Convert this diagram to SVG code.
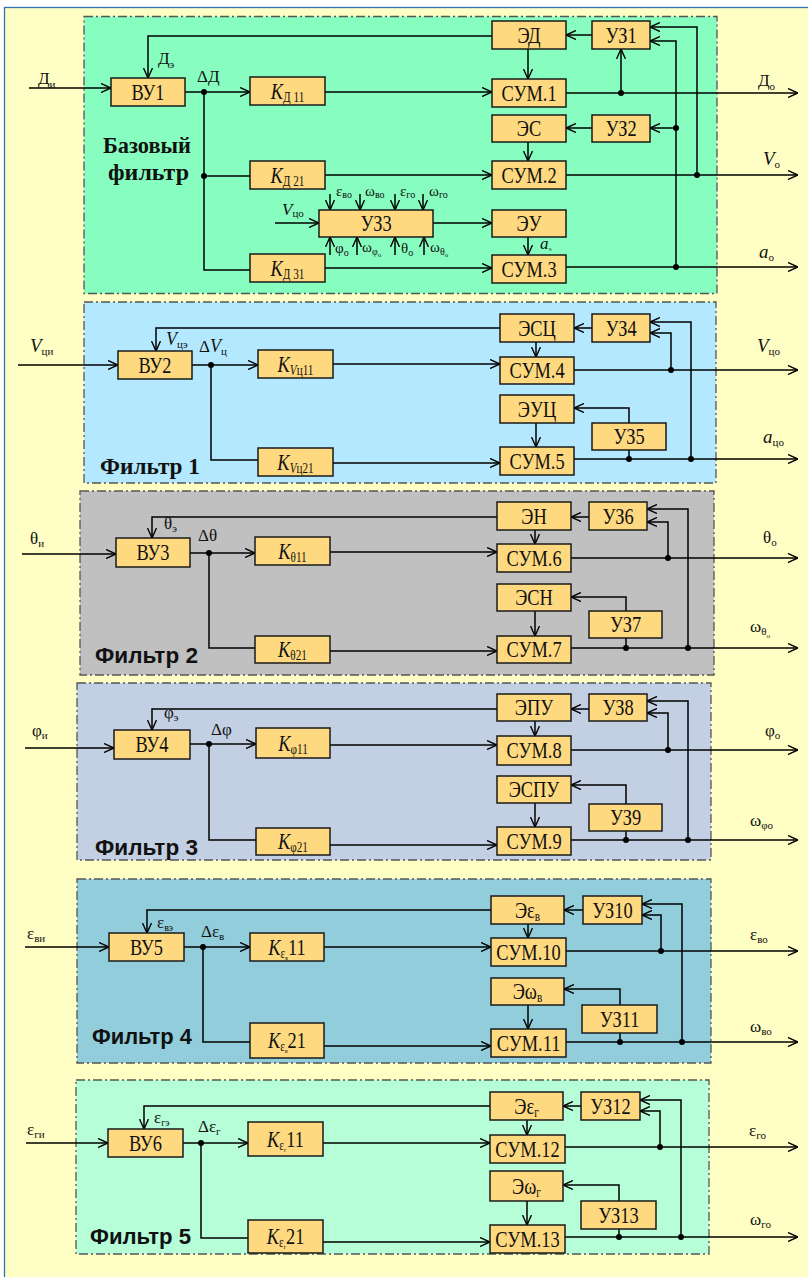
<svg xmlns="http://www.w3.org/2000/svg" width="808" height="1277" viewBox="0 0 808 1277">
<defs>
<marker id="ah" viewBox="0 0 10 10" refX="10" refY="5" markerWidth="10" markerHeight="10" markerUnits="userSpaceOnUse" orient="auto">
<path d="M0,0.5 L10,5 L0,9.5" fill="none" stroke="#000" stroke-width="1.4"/>
</marker>
<style>
.bx{fill:#FFD97F;stroke:#1a1a1a;stroke-width:1.5}
.pn{stroke:#555;stroke-width:1.3;stroke-dasharray:9 3 2 3}
.t{font-family:"Liberation Serif","Times New Roman",serif;font-size:23px;text-anchor:middle;fill:#111}
.l{font-family:"Liberation Serif","Times New Roman",serif;font-size:17px;fill:#111}
.m{font-family:"Liberation Serif","Times New Roman",serif;font-size:15px;fill:#111}
.s{font-size:11px}
.ss{font-size:10px}
.sss{font-size:7px}
.k{font-size:14px}
.i{font-style:italic}
.h{font-family:"Liberation Serif","Times New Roman",serif;font-weight:bold;font-size:23px;fill:#111}
.h2{font-family:"Liberation Sans",Arial,sans-serif;font-weight:bold;font-size:22px;fill:#111}
.c{fill:none;stroke:#000;stroke-width:1.5}
.a{marker-end:url(#ah)}
.d{fill:#000}
</style>
</defs>
<rect x="0" y="0" width="808" height="1277" fill="#ffffff"/>
<rect x="4.5" y="7.5" width="830" height="1290" fill="#FFFEC4" stroke="#2E74B5" stroke-width="1.3"/>

<g id="panels">
<rect class="pn" x="84" y="16.5" width="633" height="277" fill="#87FEC0"/>
<rect class="pn" x="84" y="302" width="632" height="181" fill="#B3E8FE"/>
<rect class="pn" x="80" y="491" width="634" height="184" fill="#C0C0C0"/>
<rect class="pn" x="77" y="683" width="634" height="177" fill="#C3CFE2"/>
<rect class="pn" x="77" y="879" width="634" height="184" fill="#92CDDC"/>
<rect class="pn" x="76" y="1080" width="633" height="174" fill="#B6FED8"/>
<text class="h" x="103" y="153" textLength="88" lengthAdjust="spacingAndGlyphs">Базовый</text>
<text class="h" x="108" y="180" textLength="81" lengthAdjust="spacingAndGlyphs">фильтр</text>
<text class="h" x="100" y="474" textLength="100" lengthAdjust="spacingAndGlyphs">Фильтр 1</text>
<text class="h2" x="95" y="663" textLength="103" lengthAdjust="spacingAndGlyphs">Фильтр 2</text>
<text class="h2" x="95" y="855" textLength="103" lengthAdjust="spacingAndGlyphs">Фильтр 3</text>
<text class="h2" x="92" y="1044" textLength="100" lengthAdjust="spacingAndGlyphs">Фильтр 4</text>
<text class="h2" x="90" y="1244" textLength="101" lengthAdjust="spacingAndGlyphs">Фильтр 5</text>
</g>

<g id="connectors">
<!-- base filter -->
<path class="c a" d="M29,88 H111"/>
<path class="c a" d="M185,92 H250"/>
<path class="c" d="M204,92 V270 H250"/>
<path class="c" d="M204,176 H250"/>
<path class="c a" d="M325,92 H492"/>
<path class="c a" d="M325,175 H492"/>
<path class="c a" d="M325,268 H492"/>
<path class="c a" d="M592,35 H566"/>
<path class="c a" d="M492,36 H148 V78"/>
<path class="c a" d="M528,49 V79"/>
<path class="c a" d="M566,93 H798"/>
<path class="c a" d="M621,93 V49"/>
<path class="c a" d="M697,175 V27 H650"/>
<path class="c a" d="M676,267 V41 H650"/>
<path class="c a" d="M676,128 H650"/>
<path class="c a" d="M592,128 H566"/>
<path class="c a" d="M528,142 V161"/>
<path class="c a" d="M566,175 H798"/>
<path class="c a" d="M275,223 H319"/>
<path class="c a" d="M433,223 H492"/>
<path class="c a" d="M330,194 V210"/>
<path class="c a" d="M360,194 V210"/>
<path class="c a" d="M395,194 V210"/>
<path class="c a" d="M423,194 V210"/>
<path class="c a" d="M330,255 V237"/>
<path class="c a" d="M357,255 V237"/>
<path class="c a" d="M395,255 V237"/>
<path class="c a" d="M424,255 V237"/>
<path class="c a" d="M528,237 V255"/>
<path class="c a" d="M566,267 H798"/>
<circle class="d" cx="204" cy="92" r="3"/>
<circle class="d" cx="204" cy="176" r="3"/>
<circle class="d" cx="621" cy="93" r="3"/>
<circle class="d" cx="697" cy="175" r="3"/>
<circle class="d" cx="676" cy="128" r="3"/>
<circle class="d" cx="676" cy="267" r="3"/>
<!-- filter 1 -->
<path class="c a" d="M18,365 H118"/>
<path class="c a" d="M192,365 H258"/>
<path class="c" d="M211,365 V460 H258"/>
<path class="c a" d="M333,364 H500"/>
<path class="c a" d="M333,463 H500"/>
<path class="c a" d="M592,328 H574"/>
<path class="c a" d="M500,328 H156 V351"/>
<path class="c a" d="M536,342 V357"/>
<path class="c a" d="M574,370 H798"/>
<path class="c a" d="M671,370 V333 H650"/>
<path class="c a" d="M691,459 V322 H650"/>
<path class="c a" d="M629,423 V408 H574"/>
<path class="c a" d="M536,423 V447"/>
<path class="c a" d="M574,459 H798"/>
<path class="c" d="M629,459 V450"/>
<circle class="d" cx="211" cy="365" r="3"/>
<circle class="d" cx="671" cy="370" r="3"/>
<circle class="d" cx="691" cy="459" r="3"/>
<circle class="d" cx="629" cy="459" r="3"/>
<!-- filter 2 -->
<path class="c a" d="M22,554 H116"/>
<path class="c a" d="M190,553 H255"/>
<path class="c" d="M209,553 V648 H255"/>
<path class="c a" d="M330,552 H497"/>
<path class="c a" d="M330,651 H497"/>
<path class="c a" d="M589,517 H571"/>
<path class="c a" d="M497,517 H152 V538"/>
<path class="c a" d="M535,530 V544"/>
<path class="c a" d="M571,558 H798"/>
<path class="c a" d="M668,558 V522 H647"/>
<path class="c a" d="M688,648 V509 H647"/>
<path class="c a" d="M626,611 V597 H571"/>
<path class="c a" d="M535,611 V636"/>
<path class="c a" d="M571,648 H798"/>
<path class="c" d="M626,648 V638"/>
<circle class="d" cx="209" cy="553" r="3"/>
<circle class="d" cx="668" cy="558" r="3"/>
<circle class="d" cx="688" cy="648" r="3"/>
<circle class="d" cx="626" cy="648" r="3"/>
<!-- filter 3 -->
<path class="c a" d="M25,748 H114"/>
<path class="c a" d="M190,744 H256"/>
<path class="c" d="M209,744 V840 H256"/>
<path class="c a" d="M330,745 H497"/>
<path class="c a" d="M330,845 H497"/>
<path class="c a" d="M589,709 H571"/>
<path class="c a" d="M497,709 H152 V730"/>
<path class="c a" d="M535,721 V736"/>
<path class="c a" d="M571,750 H798"/>
<path class="c a" d="M668,750 V713 H647"/>
<path class="c a" d="M688,840 V701 H647"/>
<path class="c a" d="M626,804 V785 H571"/>
<path class="c a" d="M535,803 V827"/>
<path class="c a" d="M571,840 H798"/>
<path class="c" d="M626,840 V831"/>
<circle class="d" cx="209" cy="744" r="3"/>
<circle class="d" cx="668" cy="750" r="3"/>
<circle class="d" cx="688" cy="840" r="3"/>
<circle class="d" cx="626" cy="840" r="3"/>
<!-- filter 4 -->
<path class="c a" d="M25,947 H109"/>
<path class="c a" d="M184,947 H250"/>
<path class="c" d="M203,947 V1042 H250"/>
<path class="c a" d="M324,947 H491"/>
<path class="c a" d="M324,1046 H491"/>
<path class="c a" d="M583,910 H564"/>
<path class="c a" d="M491,910 H147 V933"/>
<path class="c a" d="M528,924 V938"/>
<path class="c a" d="M566,951 H798"/>
<path class="c a" d="M661,951 V915 H642"/>
<path class="c a" d="M682,1042 V904 H642"/>
<path class="c a" d="M620,1005 V989 H564"/>
<path class="c a" d="M528,1005 V1029"/>
<path class="c a" d="M566,1042 H798"/>
<path class="c" d="M620,1042 V1033"/>
<circle class="d" cx="203" cy="947" r="3"/>
<circle class="d" cx="661" cy="951" r="3"/>
<circle class="d" cx="682" cy="1042" r="3"/>
<circle class="d" cx="620" cy="1042" r="3"/>
<!-- filter 5 -->
<path class="c a" d="M26,1143 H108"/>
<path class="c a" d="M183,1143 H248"/>
<path class="c" d="M201,1143 V1238 H248"/>
<path class="c a" d="M323,1143 H490"/>
<path class="c a" d="M323,1242 H490"/>
<path class="c a" d="M581,1106 H563"/>
<path class="c a" d="M490,1106 H144 V1129"/>
<path class="c a" d="M527,1120 V1135"/>
<path class="c a" d="M565,1147 H798"/>
<path class="c a" d="M660,1147 V1111 H640"/>
<path class="c a" d="M681,1237 V1100 H640"/>
<path class="c a" d="M619,1201 V1185 H563"/>
<path class="c a" d="M527,1201 V1225"/>
<path class="c a" d="M565,1237 H798"/>
<path class="c" d="M619,1237 V1229"/>
<circle class="d" cx="201" cy="1143" r="3"/>
<circle class="d" cx="660" cy="1147" r="3"/>
<circle class="d" cx="681" cy="1237" r="3"/>
<circle class="d" cx="619" cy="1237" r="3"/>
</g>

<g id="labels">
<text class="l" x="38" y="84">Д<tspan class="s" dy="4">и</tspan></text>
<text class="l" x="158" y="64">Д<tspan class="s" dy="4">э</tspan></text>
<text class="l" x="197" y="82">ΔД</text>
<text class="l" x="758" y="86">Д<tspan class="s" dy="4">о</tspan></text>
<text class="l" x="763" y="165"><tspan class="i" font-size="19">V</tspan><tspan class="s" dy="3">о</tspan></text>
<text class="l" x="759" y="258"><tspan class="i" font-size="19">a</tspan><tspan class="s" dy="3">о</tspan></text>
<text class="l" x="282" y="215"><tspan class="i">V</tspan><tspan class="s" dy="2">цо</tspan></text>
<text class="m" x="336" y="196">ε<tspan class="ss" dy="2">во</tspan></text>
<text class="m" x="365" y="196">ω<tspan class="ss" dy="2">во</tspan></text>
<text class="m" x="400" y="196">ε<tspan class="ss" dy="2">го</tspan></text>
<text class="m" x="429" y="196">ω<tspan class="ss" dy="2">го</tspan></text>
<text class="m" x="335" y="253">φ<tspan class="ss" dy="3">о</tspan></text>
<text class="m" x="362" y="252">ω<tspan class="ss" dy="3">φ</tspan><tspan class="sss" dy="2">о</tspan></text>
<text class="m" x="401" y="253">θ<tspan class="ss" dy="3">о</tspan></text>
<text class="m" x="430" y="252">ω<tspan class="ss" dy="3">θ</tspan><tspan class="sss" dy="2">о</tspan></text>
<text class="l" x="540" y="249" font-size="10"><tspan class="i">a</tspan><tspan class="sss" dy="2">э</tspan></text>

<text class="l" x="30" y="352"><tspan class="i" font-size="19">V</tspan><tspan class="s" dy="3">ци</tspan></text>
<text class="l" x="166" y="345"><tspan class="i" font-size="18">V</tspan><tspan class="s" dy="3">цэ</tspan></text>
<text class="l" x="199" y="352">Δ<tspan class="i" font-size="18">V</tspan><tspan class="s" dy="3">ц</tspan></text>
<text class="l" x="757" y="352"><tspan class="i" font-size="19">V</tspan><tspan class="s" dy="3">цо</tspan></text>
<text class="l" x="763" y="443"><tspan class="i" font-size="19">a</tspan><tspan class="s" dy="3">цо</tspan></text>

<text class="l" x="30" y="544">θ<tspan class="s" dy="3">и</tspan></text>
<text class="l" x="164" y="529">θ<tspan class="s" dy="3">э</tspan></text>
<text class="l" x="198" y="541">Δθ</text>
<text class="l" x="763" y="543">θ<tspan class="s" dy="3">о</tspan></text>
<text class="l" x="750" y="632">ω<tspan class="s" dy="3">θ</tspan><tspan class="sss" dy="3">о</tspan></text>

<text class="l" x="32" y="736">φ<tspan class="s" dy="3">и</tspan></text>
<text class="l" x="164" y="718">φ<tspan class="s" dy="3">э</tspan></text>
<text class="l" x="211" y="735">Δφ</text>
<text class="l" x="765" y="736">φ<tspan class="s" dy="3">о</tspan></text>
<text class="l" x="750" y="826">ω<tspan class="s" dy="3">φо</tspan></text>

<text class="l" x="27" y="939">ε<tspan class="s" dy="3">ви</tspan></text>
<text class="l" x="157" y="928" font-size="14">ε<tspan class="ss" dy="3">вэ</tspan></text>
<text class="l" x="201" y="937">Δε<tspan class="s" dy="3">в</tspan></text>
<text class="l" x="750" y="940">ε<tspan class="s" dy="3">во</tspan></text>
<text class="l" x="750" y="1032">ω<tspan class="s" dy="3">во</tspan></text>

<text class="l" x="27" y="1135">ε<tspan class="s" dy="3">ги</tspan></text>
<text class="l" x="154" y="1123" font-size="14">ε<tspan class="ss" dy="3">гэ</tspan></text>
<text class="l" x="198" y="1132">Δε<tspan class="s" dy="3">г</tspan></text>
<text class="l" x="749" y="1136">ε<tspan class="s" dy="3">го</tspan></text>
<text class="l" x="750" y="1225">ω<tspan class="s" dy="3">го</tspan></text>
</g>

<!-- base filter nodes -->
<g id="VU1"><rect class="bx" x="111" y="78" width="74" height="28"/><text class="t" transform="translate(148,99.5) scale(.8,1)">ВУ1</text></g>
<g id="KD11"><rect class="bx" x="250" y="77" width="75" height="28"/><text class="t" transform="translate(287.5,98.5) scale(.8,1)"><tspan class="i">K</tspan><tspan class="k" dy="3">Д 11</tspan></text></g>
<g id="KD21"><rect class="bx" x="250" y="161" width="75" height="28"/><text class="t" transform="translate(287.5,182.5) scale(.8,1)"><tspan class="i">K</tspan><tspan class="k" dy="3">Д 21</tspan></text></g>
<g id="KD31"><rect class="bx" x="250" y="254" width="75" height="28"/><text class="t" transform="translate(287.5,275.5) scale(.8,1)"><tspan class="i">K</tspan><tspan class="k" dy="3">Д 31</tspan></text></g>
<g id="ED"><rect class="bx" x="492" y="21" width="74" height="28"/><text class="t" transform="translate(529,42.5) scale(.8,1)">ЭД</text></g>
<g id="UZ1"><rect class="bx" x="592" y="21" width="58" height="28"/><text class="t" transform="translate(621,42.5) scale(.8,1)">УЗ1</text></g>
<g id="SUM1"><rect class="bx" x="492" y="79" width="74" height="28"/><text class="t" transform="translate(529,100.5) scale(.8,1)">СУМ.1</text></g>
<g id="ES"><rect class="bx" x="492" y="115" width="74" height="27"/><text class="t" transform="translate(529,136) scale(.8,1)">ЭС</text></g>
<g id="UZ2"><rect class="bx" x="592" y="115" width="58" height="27"/><text class="t" transform="translate(621,136) scale(.8,1)">УЗ2</text></g>
<g id="SUM2"><rect class="bx" x="492" y="161" width="74" height="28"/><text class="t" transform="translate(529,182.5) scale(.8,1)">СУМ.2</text></g>
<g id="UZ3"><rect class="bx" x="319" y="210" width="114" height="27"/><text class="t" transform="translate(376,231) scale(.8,1)">УЗ3</text></g>
<g id="EU"><rect class="bx" x="492" y="210" width="74" height="27"/><text class="t" transform="translate(529,231) scale(.8,1)">ЭУ</text></g>
<g id="SUM3"><rect class="bx" x="492" y="255" width="74" height="28"/><text class="t" transform="translate(529,276.5) scale(.8,1)">СУМ.3</text></g>

<!-- filter 1 nodes -->
<g id="VU2"><rect class="bx" x="118" y="351" width="74" height="28"/><text class="t" transform="translate(155,372.5) scale(.8,1)">ВУ2</text></g>
<g id="KVc11"><rect class="bx" x="258" y="350" width="75" height="28"/><text class="t" transform="translate(295.5,371.5) scale(.8,1)"><tspan class="i">K</tspan><tspan class="k i" dy="3">V</tspan><tspan class="k">ц11</tspan></text></g>
<g id="KVc21"><rect class="bx" x="258" y="448" width="75" height="28"/><text class="t" transform="translate(295.5,469.5) scale(.8,1)"><tspan class="i">K</tspan><tspan class="k i" dy="3">V</tspan><tspan class="k">ц21</tspan></text></g>
<g id="ESC"><rect class="bx" x="500" y="314" width="74" height="28"/><text class="t" transform="translate(537,335.5) scale(.8,1)">ЭСЦ</text></g>
<g id="UZ4"><rect class="bx" x="592" y="314" width="58" height="28"/><text class="t" transform="translate(621,335.5) scale(.8,1)">УЗ4</text></g>
<g id="SUM4"><rect class="bx" x="500" y="357" width="74" height="27"/><text class="t" transform="translate(537,378) scale(.8,1)">СУМ.4</text></g>
<g id="EUC"><rect class="bx" x="500" y="395" width="74" height="28"/><text class="t" transform="translate(537,416.5) scale(.8,1)">ЭУЦ</text></g>
<g id="UZ5"><rect class="bx" x="592" y="423" width="74" height="27"/><text class="t" transform="translate(629,444) scale(.8,1)">УЗ5</text></g>
<g id="SUM5"><rect class="bx" x="500" y="447" width="74" height="28"/><text class="t" transform="translate(537,468.5) scale(.8,1)">СУМ.5</text></g>

<!-- filter 2 nodes -->
<g id="VU3"><rect class="bx" x="116" y="538" width="74" height="29"/><text class="t" transform="translate(153,560) scale(.8,1)">ВУ3</text></g>
<g id="Kt11"><rect class="bx" x="255" y="537" width="75" height="28"/><text class="t" transform="translate(292.5,558.5) scale(.8,1)"><tspan class="i">K</tspan><tspan class="k" dy="3">θ11</tspan></text></g>
<g id="Kt21"><rect class="bx" x="255" y="636" width="75" height="27"/><text class="t" transform="translate(292.5,657) scale(.8,1)"><tspan class="i">K</tspan><tspan class="k" dy="3">θ21</tspan></text></g>
<g id="EN"><rect class="bx" x="497" y="502" width="74" height="28"/><text class="t" transform="translate(534,523.5) scale(.8,1)">ЭН</text></g>
<g id="UZ6"><rect class="bx" x="589" y="502" width="58" height="28"/><text class="t" transform="translate(618,523.5) scale(.8,1)">УЗ6</text></g>
<g id="SUM6"><rect class="bx" x="497" y="544" width="74" height="28"/><text class="t" transform="translate(534,565.5) scale(.8,1)">СУМ.6</text></g>
<g id="ESN"><rect class="bx" x="497" y="584" width="74" height="27"/><text class="t" transform="translate(534,605) scale(.8,1)">ЭСН</text></g>
<g id="UZ7"><rect class="bx" x="589" y="611" width="73" height="27"/><text class="t" transform="translate(625.5,632) scale(.8,1)">УЗ7</text></g>
<g id="SUM7"><rect class="bx" x="497" y="636" width="74" height="27"/><text class="t" transform="translate(534,657) scale(.8,1)">СУМ.7</text></g>

<!-- filter 3 nodes -->
<g id="VU4"><rect class="bx" x="114" y="730" width="76" height="29"/><text class="t" transform="translate(152,752) scale(.8,1)">ВУ4</text></g>
<g id="Kf11"><rect class="bx" x="256" y="728" width="74" height="30"/><text class="t" transform="translate(293,750.5) scale(.8,1)"><tspan class="i">K</tspan><tspan class="k" dy="3">φ11</tspan></text></g>
<g id="Kf21"><rect class="bx" x="256" y="828" width="74" height="27"/><text class="t" transform="translate(293,849) scale(.8,1)"><tspan class="i">K</tspan><tspan class="k" dy="3">φ21</tspan></text></g>
<g id="EPU"><rect class="bx" x="497" y="694" width="74" height="27"/><text class="t" transform="translate(534,715) scale(.8,1)">ЭПУ</text></g>
<g id="UZ8"><rect class="bx" x="589" y="694" width="58" height="27"/><text class="t" transform="translate(618,715) scale(.8,1)">УЗ8</text></g>
<g id="SUM8"><rect class="bx" x="497" y="736" width="74" height="29"/><text class="t" transform="translate(534,758) scale(.8,1)">СУМ.8</text></g>
<g id="ESPU"><rect class="bx" x="497" y="776" width="74" height="27"/><text class="t" transform="translate(534,797) scale(.8,1)">ЭСПУ</text></g>
<g id="UZ9"><rect class="bx" x="589" y="804" width="73" height="27"/><text class="t" transform="translate(625.5,825) scale(.8,1)">УЗ9</text></g>
<g id="SUM9"><rect class="bx" x="497" y="827" width="74" height="28"/><text class="t" transform="translate(534,848.5) scale(.8,1)">СУМ.9</text></g>

<!-- filter 4 nodes -->
<g id="VU5"><rect class="bx" x="109" y="933" width="75" height="28"/><text class="t" transform="translate(146.5,954.5) scale(.8,1)">ВУ5</text></g>
<g id="Kev11"><rect class="bx" x="250" y="933" width="74" height="28"/><text class="t" transform="translate(287,954.5) scale(.8,1)"><tspan class="i">K</tspan><tspan class="k" dy="3">ε</tspan><tspan class="sss" dy="2">в</tspan><tspan dy="-5">11</tspan></text></g>
<g id="Kev21"><rect class="bx" x="250" y="1023" width="74" height="35"/><text class="t" transform="translate(287,1048) scale(.8,1)"><tspan class="i">K</tspan><tspan class="k" dy="3">ε</tspan><tspan class="sss" dy="2">в</tspan><tspan dy="-5">21</tspan></text></g>
<g id="Eev"><rect class="bx" x="491" y="896" width="73" height="28"/><text class="t" transform="translate(527.5,917.5) scale(.8,1)">Эε<tspan class="k" dy="3">в</tspan></text></g>
<g id="UZ10"><rect class="bx" x="583" y="896" width="59" height="28"/><text class="t" transform="translate(612.5,917.5) scale(.8,1)">УЗ10</text></g>
<g id="SUM10"><rect class="bx" x="491" y="938" width="75" height="28"/><text class="t" transform="translate(528.5,959.5) scale(.8,1)">СУМ.10</text></g>
<g id="Ewv"><rect class="bx" x="491" y="978" width="73" height="27"/><text class="t" transform="translate(527.5,999) scale(.8,1)">Эω<tspan class="k" dy="3">в</tspan></text></g>
<g id="UZ11"><rect class="bx" x="582" y="1005" width="75" height="28"/><text class="t" transform="translate(619.5,1026.5) scale(.8,1)">УЗ11</text></g>
<g id="SUM11"><rect class="bx" x="491" y="1029" width="75" height="28"/><text class="t" transform="translate(528.5,1050.5) scale(.8,1)">СУМ.11</text></g>

<!-- filter 5 nodes -->
<g id="VU6"><rect class="bx" x="108" y="1129" width="75" height="28"/><text class="t" transform="translate(145.5,1150.5) scale(.8,1)">ВУ6</text></g>
<g id="Keg11"><rect class="bx" x="248" y="1122" width="75" height="34"/><text class="t" transform="translate(285.5,1146.5) scale(.8,1)"><tspan class="i">K</tspan><tspan class="k" dy="3">ε</tspan><tspan class="sss" dy="2">г</tspan><tspan dy="-5">11</tspan></text></g>
<g id="Keg21"><rect class="bx" x="248" y="1220" width="75" height="33"/><text class="t" transform="translate(285.5,1244) scale(.8,1)"><tspan class="i">K</tspan><tspan class="k" dy="3">ε</tspan><tspan class="sss" dy="2">г</tspan><tspan dy="-5">21</tspan></text></g>
<g id="Eeg"><rect class="bx" x="490" y="1092" width="73" height="28"/><text class="t" transform="translate(526.5,1113.5) scale(.8,1)">Эε<tspan class="k" dy="3">г</tspan></text></g>
<g id="UZ12"><rect class="bx" x="581" y="1092" width="59" height="28"/><text class="t" transform="translate(610.5,1113.5) scale(.8,1)">УЗ12</text></g>
<g id="SUM12"><rect class="bx" x="490" y="1135" width="75" height="28"/><text class="t" transform="translate(527.5,1156.5) scale(.8,1)">СУМ.12</text></g>
<g id="Ewg"><rect class="bx" x="490" y="1171" width="73" height="30"/><text class="t" transform="translate(526.5,1193.5) scale(.8,1)">Эω<tspan class="k" dy="3">г</tspan></text></g>
<g id="UZ13"><rect class="bx" x="581" y="1201" width="75" height="28"/><text class="t" transform="translate(618.5,1222.5) scale(.8,1)">УЗ13</text></g>
<g id="SUM13"><rect class="bx" x="490" y="1225" width="75" height="28"/><text class="t" transform="translate(527.5,1246.5) scale(.8,1)">СУМ.13</text></g>
</svg>
